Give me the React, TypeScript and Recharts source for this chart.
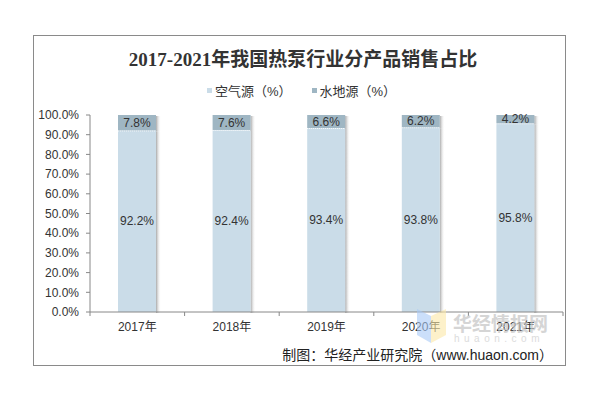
import React from 'react';
import { BarChart, Bar, XAxis, YAxis, LabelList } from 'recharts';

const years = ['2017年', '2018年', '2019年', '2020年', '2021年'];
const airSource = [92.2, 92.4, 93.4, 93.8, 95.8];
const groundSource = [7.8, 7.6, 6.6, 6.2, 4.2];
const yTicks = [0, 10, 20, 30, 40, 50, 60, 70, 80, 90, 100];

const data = years.map((y, i) => ({ year: y, air: airSource[i], ground: groundSource[i] }));

const AIR = '#CADCE8';
const GROUND = '#9FB6C3';
const FONT = 'Arial, "Liberation Sans", "Noto Sans CJK SC", sans-serif';

const ShadowBar = (props: any) => {
  const { x, y, width, height, fill, top } = props;
  return (
    <g>
      <defs>
        <linearGradient id="shd" x1="0" y1="0" x2="1" y2="0">
          <stop offset="0%" stopColor="#a8a8a8" />
          <stop offset="100%" stopColor="#ffffff" stopOpacity={0} />
        </linearGradient>
      </defs>
      <rect x={x + width} y={y + 1} width={5} height={height} fill="url(#shd)" />
      <rect x={x} y={y} width={width} height={height} fill={fill} />
      {!top && (
        <line x1={x} x2={x + width} y1={y + 0.5} y2={y + 0.5} stroke="#ffffff" strokeDasharray="1 1" />
      )}
    </g>
  );
};

const XTick = (props: any) => {
  const { x, y, payload, index } = props;
  const half = 473 / 5 / 2;
  return (
    <g>
      <line x1={x - half} x2={x - half} y1={y - 8} y2={y - 4} stroke="#888" />
      {index === years.length - 1 && (
        <line x1={x + half} x2={x + half} y1={y - 8} y2={y - 4} stroke="#888" />
      )}
      <text x={x} y={y + 11} textAnchor="middle" fontSize={12} fill="#333" fontFamily={FONT}>
        {payload.value}
      </text>
    </g>
  );
};

export default function App() {
  return (
    <div style={{ position: 'absolute', left: 0, top: 0, width: 606, height: 395, background: '#fff', fontFamily: FONT }}>
      <div style={{ position: 'absolute', left: 33, top: 35, width: 531, height: 329, border: '1px solid #8a8a8a' }} />
      <div style={{ position: 'absolute', left: 0, top: 44, width: 606, textAlign: 'center', fontSize: 19, fontWeight: 'bold', color: '#333', fontFamily: '"Liberation Serif", "DejaVu Serif", "Noto Sans CJK SC", serif', letterSpacing: 0 }}>
        2017-2021年我国热泵行业分产品销售占比
      </div>
      <div style={{ position: 'absolute', left: 207, top: 81, fontSize: 13, color: '#333', display: 'flex', alignItems: 'center', whiteSpace: 'nowrap' }}>
        <span style={{ display: 'inline-block', width: 5, height: 5, background: AIR, marginRight: 3 }} />
        <span>空气源（%）</span>
        <span style={{ display: 'inline-block', width: 5, height: 5, background: GROUND, marginLeft: 20, marginRight: 3 }} />
        <span>水地源（%）</span>
      </div>
      <div style={{ position: 'absolute', right: 53, top: 344, fontSize: 14, color: '#222', whiteSpace: 'nowrap' }}>
        制图：华经产业研究院（www.huaon.com）
      </div>
      <div style={{ position: 'absolute', left: 0, top: 0 }}>
        <BarChart width={606} height={395} data={data} margin={{ top: 115, right: 43, bottom: 63, left: 40 }} barSize={38}>
          <XAxis dataKey="year" axisLine={{ stroke: '#888' }} tickLine={false} tick={<XTick />} height={20} interval={0} />
          <YAxis
            domain={[0, 100]}
            ticks={yTicks}
            interval={0}
            width={50}
            axisLine={{ stroke: '#888' }}
            tickLine={{ stroke: '#888' }}
            tickSize={4}
            tickMargin={7}
            tickFormatter={(v: number) => v.toFixed(1) + '%'}
            tick={{ fontSize: 12, fill: '#333', fontFamily: FONT }}
          />
          <Bar dataKey="air" stackId="a" fill={AIR} isAnimationActive={false} shape={<ShadowBar fill={AIR} />}>
            <LabelList dataKey="air" position="center" formatter={(v: number) => v.toFixed(1) + '%'} style={{ fontSize: 12, fill: '#333', fontFamily: FONT }} />
          </Bar>
          <Bar dataKey="ground" stackId="a" fill={GROUND} isAnimationActive={false} shape={<ShadowBar fill={GROUND} top />}>
            <LabelList dataKey="ground" position="center" formatter={(v: number) => v.toFixed(1) + '%'} style={{ fontSize: 12, fill: '#333', fontFamily: FONT }} />
          </Bar>
        </BarChart>
      </div>
      <svg width={606} height={395} style={{ position: 'absolute', left: 0, top: 0, pointerEvents: 'none' }}>
        <polygon points="417,309 431,316 431,343 417,335" fill="#A9C9F6" opacity={0.6} />
        <polygon points="431,316 446,309 446,335 431,343" fill="#FBE8A6" opacity={0.6} />
        <text x={453} y={331} fontSize={19} fontWeight="bold" fill="#c4c4c4" opacity={0.7} fontFamily={FONT}>华经情报网</text>
        <text x={454} y={342} fontSize={10} fill="#d4d4d4" opacity={0.8} fontFamily={FONT} letterSpacing={4.5}>huaon.com</text>
      </svg>
    </div>
  );
}
